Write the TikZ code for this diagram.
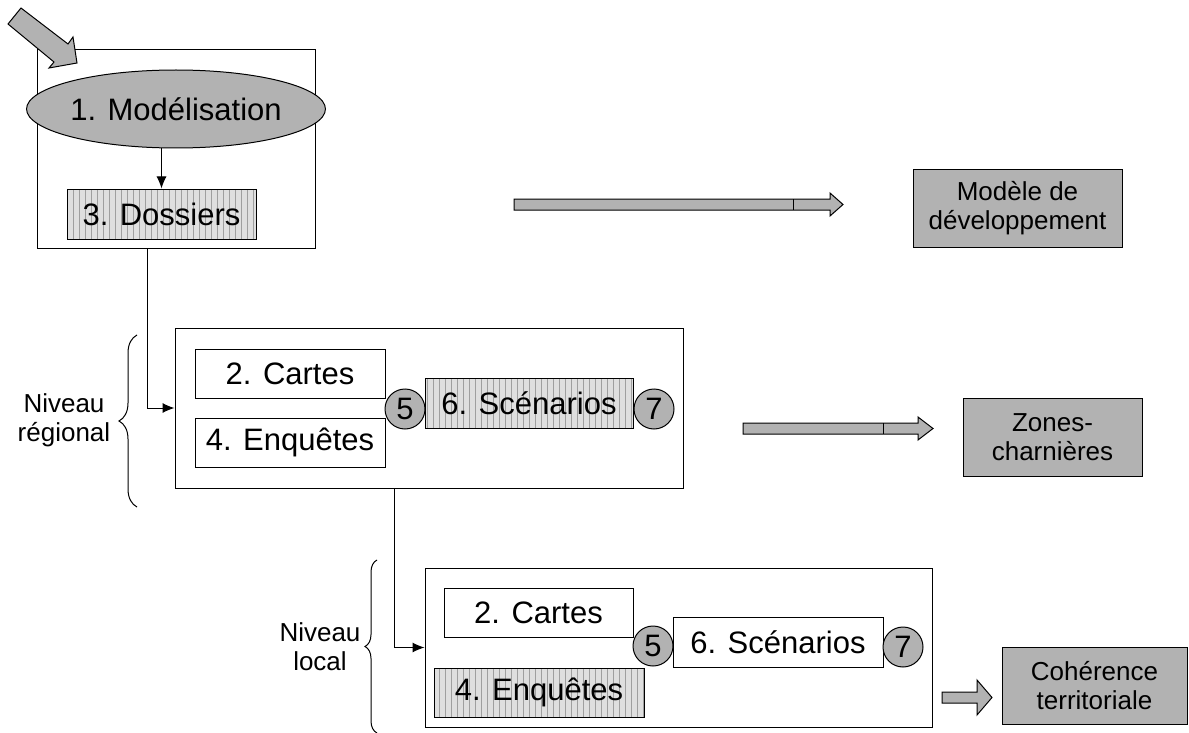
\documentclass[tikz,border=0pt]{standalone}
\usepackage{fontspec}
\setmainfont{Liberation Sans}
\usetikzlibrary{arrows.meta,shapes.geometric,patterns,decorations.pathreplacing}
\definecolor{boxgray}{RGB}{178,178,178}

\begin{document}
\begin{tikzpicture}[
   x=0.5pt, y=-0.5pt,
   font=\fontsize{15.5}{18}\selectfont,
   every node/.append style={align=center, inner sep=0pt},  % <-- two-line labels
   frame/.style={draw, line width=0.5pt},
   stepbox/.style={draw, line width=0.5pt, fill=white},
   hatchbox/.style={draw, line width=0.5pt, preaction={fill=gray!25},
      pattern=vertical lines, pattern color=gray!75},
   result/.style={draw, line width=0.5pt, fill=boxgray, font=\fontsize{13}{14.5}\selectfont},
   num/.style={circle, draw, line width=0.5pt, fill=boxgray, minimum size=20pt},
   link/.style={line width=0.5pt, -{Latex[length=6pt,width=5pt]}},
   blockarrow/.style={draw, line width=0.5pt, fill=boxgray, line join=miter},
   level brace/.style={decorate, line width=0.5pt}
]
\useasboundingbox (0,0) rectangle (1189,733);

% modelisation block
\node[frame, minimum width=139pt, minimum height=99pt] (modbox) at (176,149) {};
\node[draw, ellipse, line width=0.5pt, fill=boxgray, minimum width=139pt, minimum height=39pt]
   (modelisation) at (176,109) {1. Modélisation};
\node[hatchbox, minimum width=94.5pt, minimum height=25pt] (dossiers) at (161.5,214) {3. Dossiers};
\draw[link] (modelisation.south -| dossiers.north) -- (dossiers.north);
\draw[blockarrow] (21,8) -- (68,44) -- (73,37) -- (77,63) -- (49,68) -- (54,62) -- (8,24) -- cycle;

% regional level
\node[frame, minimum width=254pt, minimum height=80pt] (regbox) at (429,408) {};
\node[stepbox, minimum width=95pt, minimum height=24.5pt] (rcartes) at (290,373.5) {2. Cartes};
\node[stepbox, minimum width=95pt, minimum height=24.5pt] (renquetes) at (290,442.5) {4. Enquêtes};
\node[hatchbox, minimum width=104pt, minimum height=25pt] (rscenarios) at (529,403) {6. Scénarios};
\node[num] (rfive) at (405,409) {5};
\node[num] (rseven) at (654,409) {7};

% local level
\node[frame, minimum width=253.5pt, minimum height=79.5pt] (locbox) at (678.5,647.5) {};
\node[stepbox, minimum width=94.5pt, minimum height=24.5pt] (lcartes) at (538.5,612.5) {2. Cartes};
\node[hatchbox, minimum width=105pt, minimum height=24.5pt] (lenquetes) at (539,692.5) {4. Enquêtes};
\node[stepbox, minimum width=105pt, minimum height=25pt] (lscenarios) at (778,642) {6. Scénarios};
\node[num] (lfive) at (653,646) {5};
\node[num] (lseven) at (903,647) {7};

\draw[link] ([xshift=-14.5pt]modbox.south) |- (regbox.west);
\draw[link] ([xshift=-17.5pt]regbox.south) |- (locbox.west);

% results
\node[result, minimum width=104.5pt, minimum height=38.5pt] (modele) at (1017.5,208.5) {Modèle de\\développement};
\node[result, minimum width=89.5pt, minimum height=39pt] (zones) at (1052.5,437) {Zones-\\charnières};
\node[result, minimum width=92.5pt, minimum height=38.5pt] (coherence) at (1094.5,685.5) {Cohérence\\territoriale};

\draw[blockarrow] (514,199) -- (830,199) -- (830,193) -- (843,204.5) -- (830,216) -- (830,210) -- (514,210) -- cycle;
\draw[line width=0.5pt] (793,199) -- (793,210);
\draw[blockarrow] (743,423) -- (918,423) -- (918,417) -- (933,428.5) -- (918,440) -- (918,434) -- (743,434) -- cycle;
\draw[line width=0.5pt] (883,423) -- (883,434);
\draw[blockarrow] (942,692) -- (977,692) -- (977,680) -- (992,697.5) -- (977,715) -- (977,703) -- (942,703) -- cycle;

% levels
\draw[level brace, decoration={brace, amplitude=9pt}] (137,507) -- (137,335);
\node[font=\fontsize{13}{14.5}\selectfont] (regional) at (64,420) {Niveau\\régional};
\draw[level brace, decoration={brace, amplitude=6pt}] (377,733) -- (377,560);
\node[font=\fontsize{13}{14.5}\selectfont] (local) at (320,647) {Niveau\\local};
\end{tikzpicture}
\end{document}
